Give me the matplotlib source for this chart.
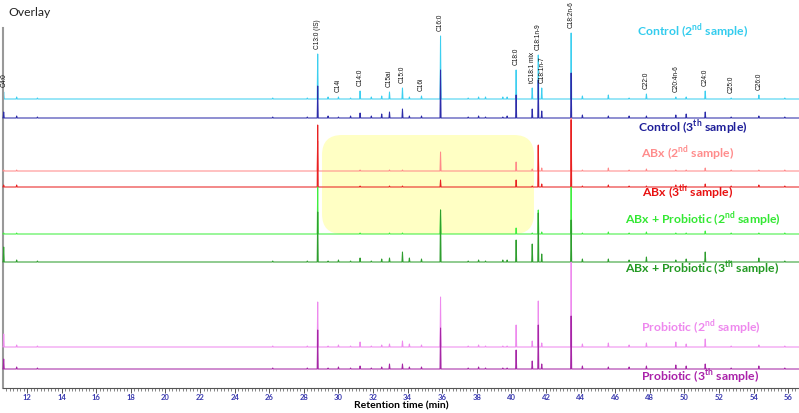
import matplotlib
matplotlib.use("Agg")
import matplotlib.pyplot as plt
import matplotlib.patches as mpatches
from matplotlib.ticker import MultipleLocator

plt.rcParams['font.family'] = ['Lato', 'DejaVu Sans']
plt.rcParams['mathtext.fontset'] = 'custom'
plt.rcParams['mathtext.rm'] = 'Lato'
plt.rcParams['mathtext.bf'] = 'Lato:bold'

# retention times of the peaks (min)
peak_rt = [10.65, 11.4, 12.6, 26.2, 28.2, 28.8, 29.4, 30.0, 30.7, 31.25,
           31.9, 32.5, 32.95, 33.7, 34.1, 34.8, 35.9, 37.5, 38.1, 38.5,
           39.5, 39.75, 40.27, 41.2, 41.55, 41.75, 43.45, 44.1, 45.6, 46.8,
           47.8, 49.5, 50.1, 51.2, 52.7, 54.3, 55.8]

# names of the labelled peaks (index into peak_rt)
peak_names = {0: "C4:0", 5: "C13:0 (IS)", 7: "C14i", 9: "C14:0", 12: "C15ai",
              13: "C15:0", 15: "C16i", 16: "C16:0", 22: "C18:0",
              23: "tC18:1 mix", 24: "C18:1n-9", 25: "C18:1n-7",
              26: "C18:2n-6", 30: "C22:0", 31: "C20:4n-6", 33: "C24:0",
              34: "C25:0", 35: "C26:0"}

# one entry per trace: label, sample, baseline offset, peak heights
samples = ["Control", "Control", "ABx", "ABx", "ABx + Probiotic",
           "ABx + Probiotic", "Probiotic", "Probiotic"]
sample_no = [("2", "nd"), ("3", "th")] * 4
offsets = [289, 270, 217, 201, 154, 126, 41, 19]
heights = [
    [7, 2, 1, 1, 1, 45, 2, 2, 1, 8, 2, 3, 7, 11, 2, 3, 63, 1, 2, 2, 2, 2, 29, 11, 44, 11, 66, 3, 4, 1, 5, 2, 2, 8, 1, 4, 1],
    [6, 2, 1, 1, 1, 32, 2, 1, 2, 5, 2, 4, 6, 9, 2, 2, 48, 1, 2, 1, 1, 2, 23, 9, 38, 7, 45, 3, 2, 2, 2, 3, 4, 6, 1, 2, 1],
    [1, 1, 0, 0, 0, 30, 0, 0, 0, 1, 0, 0, 1, 1, 0, 0, 19, 0, 0, 0, 0, 0, 9, 2, 25, 3, 53, 1, 3, 1, 2, 1, 1, 3, 1, 1, 1],
    [2, 2, 0, 0, 0, 62, 0, 0, 0, 1, 0, 0, 1, 1, 0, 0, 7, 0, 0, 0, 0, 0, 7, 1, 42, 3, 67, 1, 2, 1, 1, 2, 1, 3, 1, 2, 1],
    [1, 1, 0, 0, 0, 47, 0, 0, 0, 1, 0, 0, 1, 1, 0, 0, 24, 0, 0, 0, 0, 0, 6, 1, 24, 2, 47, 1, 2, 1, 2, 1, 1, 3, 1, 1, 1],
    [15, 2, 1, 1, 1, 50, 1, 2, 1, 4, 1, 3, 4, 10, 4, 3, 52, 1, 2, 1, 2, 2, 22, 18, 49, 8, 42, 3, 3, 2, 5, 2, 3, 10, 1, 4, 1],
    [13, 2, 1, 1, 1, 45, 1, 2, 1, 5, 1, 2, 3, 6, 3, 2, 50, 1, 2, 1, 1, 1, 22, 6, 46, 4, 85, 3, 4, 2, 4, 5, 3, 8, 1, 2, 1],
    [10, 2, 1, 1, 1, 39, 1, 2, 1, 3, 1, 2, 5, 5, 2, 2, 41, 1, 2, 1, 1, 1, 19, 8, 44, 5, 53, 3, 2, 2, 3, 4, 3, 5, 1, 3, 1],
]
line_colors = ["#3DCFF0", "#2C2CAA", "#FF8A8A", "#E82222",
               "#40EE40", "#2E9E2E", "#EE8AEE", "#A626A6"]
text_colors = ["#33CCEE", "#1F1F99", "#FF8C8C", "#E81010",
               "#33E833", "#229922", "#EE88EE", "#AA22AA"]
# label anchor (minutes, y units)
label_x = [50.5, 50.5, 50.2, 50.2, 51.05, 51.0, 50.95, 50.9]
label_y = [356, 260, 234, 195, 168, 119, 60, 11]

XMIN, XMAX = 10.61, 56.62

fig = plt.figure(figsize=(7.99, 4.13), dpi=100)
ax = fig.add_axes([3 / 799, 25 / 413, 796 / 799, 385 / 413])
ax.set_xlim(XMIN, XMAX)
ax.set_ylim(0, 385)

# highlight box
box = mpatches.FancyBboxPatch((29.05, 154), 41.3 - 29.05, 99,
                              boxstyle="round,pad=0,rounding_size=1.15",
                              mutation_aspect=17.3, facecolor="#FFFFC4",
                              edgecolor="none", zorder=0)
ax.add_patch(box)

w = 0.03
for i in range(len(offsets)):
    xs = [XMIN]
    ys = [offsets[i]]
    for rt, h in zip(peak_rt, heights[i]):
        xs += [rt - w, rt, rt + w]
        ys += [offsets[i], offsets[i] + h, offsets[i]]
    xs.append(XMAX)
    ys.append(offsets[i])
    ax.plot(xs, ys, color=line_colors[i], lw=0.75, zorder=2 + i,
            clip_on=False)
    num, suf = sample_no[i]
    ax.text(label_x[i], label_y[i],
            f"{samples[i]} ({num}$^{{\\mathbf{{{suf}}}}}$ sample)",
            color=text_colors[i], fontsize=8.8, fontweight="bold",
            ha="center", va="center", zorder=20)

# peak names above the first trace
for idx, name in peak_names.items():
    top = offsets[0] + heights[0][idx] + 5
    ax.text(peak_rt[idx], top, name, rotation=90, ha="center", va="bottom",
            fontsize=4.7, family="Liberation Sans", color="#111111",
            zorder=20)

ax.text(10.9, 376, "Overlay", fontsize=8.7, color="#222222", va="center")

for s in ["top", "right"]:
    ax.spines[s].set_visible(False)
ax.spines["left"].set_bounds(0, 360)
ax.spines["left"].set_color("#999999")
ax.spines["left"].set_linewidth(1.5)
ax.spines["bottom"].set_color("#555555")
ax.spines["bottom"].set_linewidth(0.8)
ax.set_yticks([])
ax.xaxis.set_major_locator(MultipleLocator(2))
ax.xaxis.set_minor_locator(MultipleLocator(0.2))
ax.tick_params(axis="x", which="major", length=3.5, width=0.7, color="#555555",
               labelsize=5.5, labelcolor="#3A3AB0", pad=0.8)
ax.tick_params(axis="x", which="minor", length=2.5, width=0.5, color="#555555")
for t in ax.get_xticklabels():
    t.set_fontweight("bold")
ax.set_xlabel("Retention time (min)", fontsize=7.5, fontweight="bold",
              labelpad=0)

fig.savefig("out.png", dpi=100)
